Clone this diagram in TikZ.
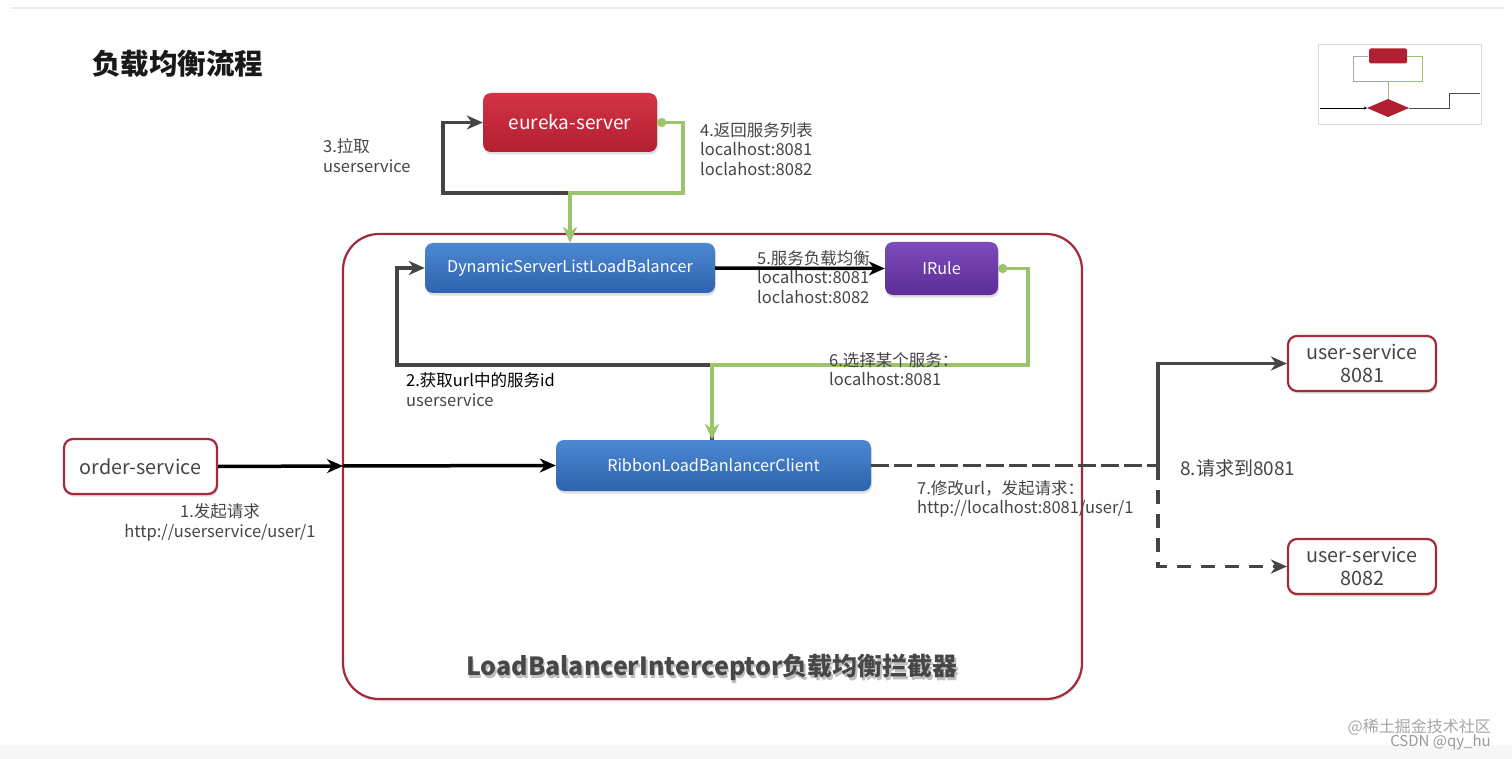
\documentclass[tikz,border=0pt]{standalone}
\usepackage{fontspec}
\setmainfont{Noto Sans CJK SC}
\usetikzlibrary{arrows.meta,shadows}
\definecolor{bordred}{HTML}{A32A3C}
\definecolor{lgray}{HTML}{454545}
\definecolor{lgreen}{HTML}{9CC46A}
\definecolor{redtop}{HTML}{D33444}
\definecolor{redbot}{HTML}{B21F31}
\definecolor{bluetop}{HTML}{4C88D2}
\definecolor{bluebot}{HTML}{2E63AE}
\definecolor{purtop}{HTML}{7D4BBC}
\definecolor{purbot}{HTML}{5C2E96}
\tikzset{
  shad/.style={drop shadow={opacity=0.25,shadow xshift=1pt,shadow yshift=-2.5pt}},
  colbox/.style={rounded corners=8pt, shad, text=white, inner sep=0pt},
  redbox/.style={colbox, top color=redtop, bottom color=redbot, font=\fontsize{19}{22}\selectfont},
  bluebox/.style={colbox, top color=bluetop, bottom color=bluebot, font=\fontsize{16.2}{18}\selectfont},
  purbox/.style={colbox, top color=purtop, bottom color=purbot, font=\fontsize{16.2}{18}\selectfont},
  svcbox/.style={draw=bordred, line width=2.2pt, fill=white, rounded corners=9pt, shad, text=lgray,
     font=\fontsize{19.8}{23}\selectfont, align=center, inner sep=0pt},
  lbl/.style={inner sep=0pt, anchor=west, align=left, font=\fontsize{16.5}{19.5}\selectfont, text=lgray},
  tip/.style={-{Stealth[length=16pt,width=14pt,inset=5pt]}},
  dot/.style={{Circle[length=9pt]}-{Stealth[length=16pt,width=14pt,inset=5pt]}},
  grayline/.style={draw=lgray, line width=3.5pt, tip},
  blackline/.style={draw=black, line width=3.5pt, tip},
  greenline/.style={draw=lgreen, line width=3.5pt, dot},
}
\begin{document}
\begin{tikzpicture}[x=1pt,y=-1pt]
\useasboundingbox (0,0) rectangle (1512,759);
\fill[white] (0,0) rectangle (1512,759);
\draw[gray!15, line width=1.5pt] (10,8) -- (1505,8);
\fill[gray!6] (0,745) rectangle (1512,759);

% title
\node[anchor=west, inner sep=0pt, font=\fontsize{28.5}{31}\selectfont\bfseries, text=black!90] (title) at (92,64) {负载均衡流程};

% thumbnail
\node[draw=gray!30, fill=white, line width=0.8pt, minimum width=163pt, minimum height=80pt, inner sep=0pt,
  drop shadow={opacity=0.15,shadow xshift=1pt,shadow yshift=-1.5pt}] (thumb) at (1399.5,84) {};
\node[fill=redbot, minimum width=38pt, minimum height=15pt, inner sep=0pt, rounded corners=1.5pt] (teu) at (1388,56) {};
\fill[redbot] (1367,108) -- (1388,99) -- (1409,108) -- (1388,117) -- cycle;
\draw[gray!70, line width=0.8pt] (1388,81) -- (1353,81) -- (1353,56) -- (1368,56);
\draw[lgreen, line width=0.8pt] (1407,56) -- (1422,56) -- (1422,81) -- (1388,81) -- (1388,99);
\draw[black, line width=0.8pt, -{Stealth[length=3pt,width=3pt]}] (1320,108) -- (1367,108);
\draw[black!70, line width=0.8pt] (1409,108) -- (1449,108) -- (1449,93) -- (1480,93);

% container
\node[draw=bordred, line width=2.2pt, rounded corners=36pt, minimum width=739pt, minimum height=465pt, inner sep=0pt,
  drop shadow={opacity=0.2,shadow xshift=1pt,shadow yshift=-2.5pt}, fill=white] (cont) at (712.5,466.5) {};
\node[font=\fontsize{25}{28}\selectfont\bfseries, text=black!25, inner sep=0pt] (ctshadow) at (713.5,670) {LoadBalancerInterceptor负载均衡拦截器};
\node[font=\fontsize{25}{28}\selectfont\bfseries, text=black!72, inner sep=0pt] (ctitle) at (712,667) {LoadBalancerInterceptor负载均衡拦截器};

% nodes
\node[redbox, minimum width=174pt, minimum height=59pt] (eureka) at (570,122.5) {eureka-server};
\node[bluebox, minimum width=290pt, minimum height=50pt] (dyn) at (570,268) {DynamicServerListLoadBalancer};
\node[purbox, minimum width=113pt, minimum height=53pt] (irule) at (941.5,268.5) {IRule};
\node[bluebox, minimum width=315pt, minimum height=51pt] (ribbon) at (713.5,465.5) {RibbonLoadBanlancerClient};
\node[svcbox, minimum width=153pt, minimum height=55pt] (order) at (140.5,466.5) {order-service};
\node[svcbox, minimum width=148pt, minimum height=55pt] (us1) at (1362,363.5) {user-service\\8081};
\node[svcbox, minimum width=148pt, minimum height=55pt] (us2) at (1362,566.5) {user-service\\8082};

% coordinates
\coordinate (pA) at (570,193);
\coordinate (pB) at (443,193);
\coordinate (pC) at (683,122.5);
\coordinate (pD) at (683,193);
\coordinate (pE) at (712,365);
\coordinate (pF) at (397,365);
\coordinate (pG) at (1028,268.5);
\coordinate (pH) at (1028,365);
\coordinate (cin) at (343,466);
\coordinate (split) at (1158,465.5);

% 3: pull
\draw[grayline] (pA) -- (pB) |- (eureka.west);
% 4: return list
\draw[greenline] (eureka.east) -- (pC) -- (pD) -- (pA) -- (dyn.north);
% 5
\draw[blackline] (dyn.east) -- (irule.west);
% 2
\draw[grayline] (ribbon.north -| pE) -- (pE) -- (pF) |- (dyn.west);
% 6
\draw[greenline] (irule.east) -- (pG) -- (pH) -- (pE) -- (ribbon.north -| pE);
% 1
\draw[blackline] (order.east) -- (cin);
\draw[blackline] (cin) -- (ribbon.west);
% 7/8
\draw[draw=lgray, line width=3.5pt, dash pattern=on 18pt off 5pt] (ribbon.east) -- (split);
\draw[grayline] (split) |- (us1.west);
\draw[grayline, dash pattern=on 14pt off 10pt] (split) |- (us2.west);

% labels
\node[lbl] (l3) at (323,155.5) {3.拉取\\userservice};
\node[lbl] (l4) at (700,149) {4.返回服务列表\\localhost:8081\\loclahost:8082};
\node[lbl] (l5) at (757,277) {5.服务负载均衡\\localhost:8081\\loclahost:8082};
\node[lbl] (l6) at (829,369) {6.选择某个服务：\\localhost:8081};
\node[lbl] (l2) at (406,389.5) {\textcolor{black}{2.获取url中的服务id}\\userservice};
\node[lbl, anchor=center, align=center] (l1) at (220,522.5) {1.发起请求\\http://userservice/user/1};
\node[lbl] (l7) at (917,499) {7.修改url，发起请求：\\http://localhost:8081/user/1};
\node[lbl, font=\fontsize{19}{22}\selectfont] (l8) at (1180,468) {8.请求到8081};

% watermark
\node[anchor=east, inner sep=0pt, text=gray!70, font=\fontsize{16}{18}\selectfont] (wm1) at (1491,727) {@稀土掘金技术社区};
\node[anchor=east, inner sep=0pt, text=gray!80, font=\fontsize{15}{18}\selectfont] (wm2) at (1491,742) {CSDN @qy\_hu};
\end{tikzpicture}
\end{document}
